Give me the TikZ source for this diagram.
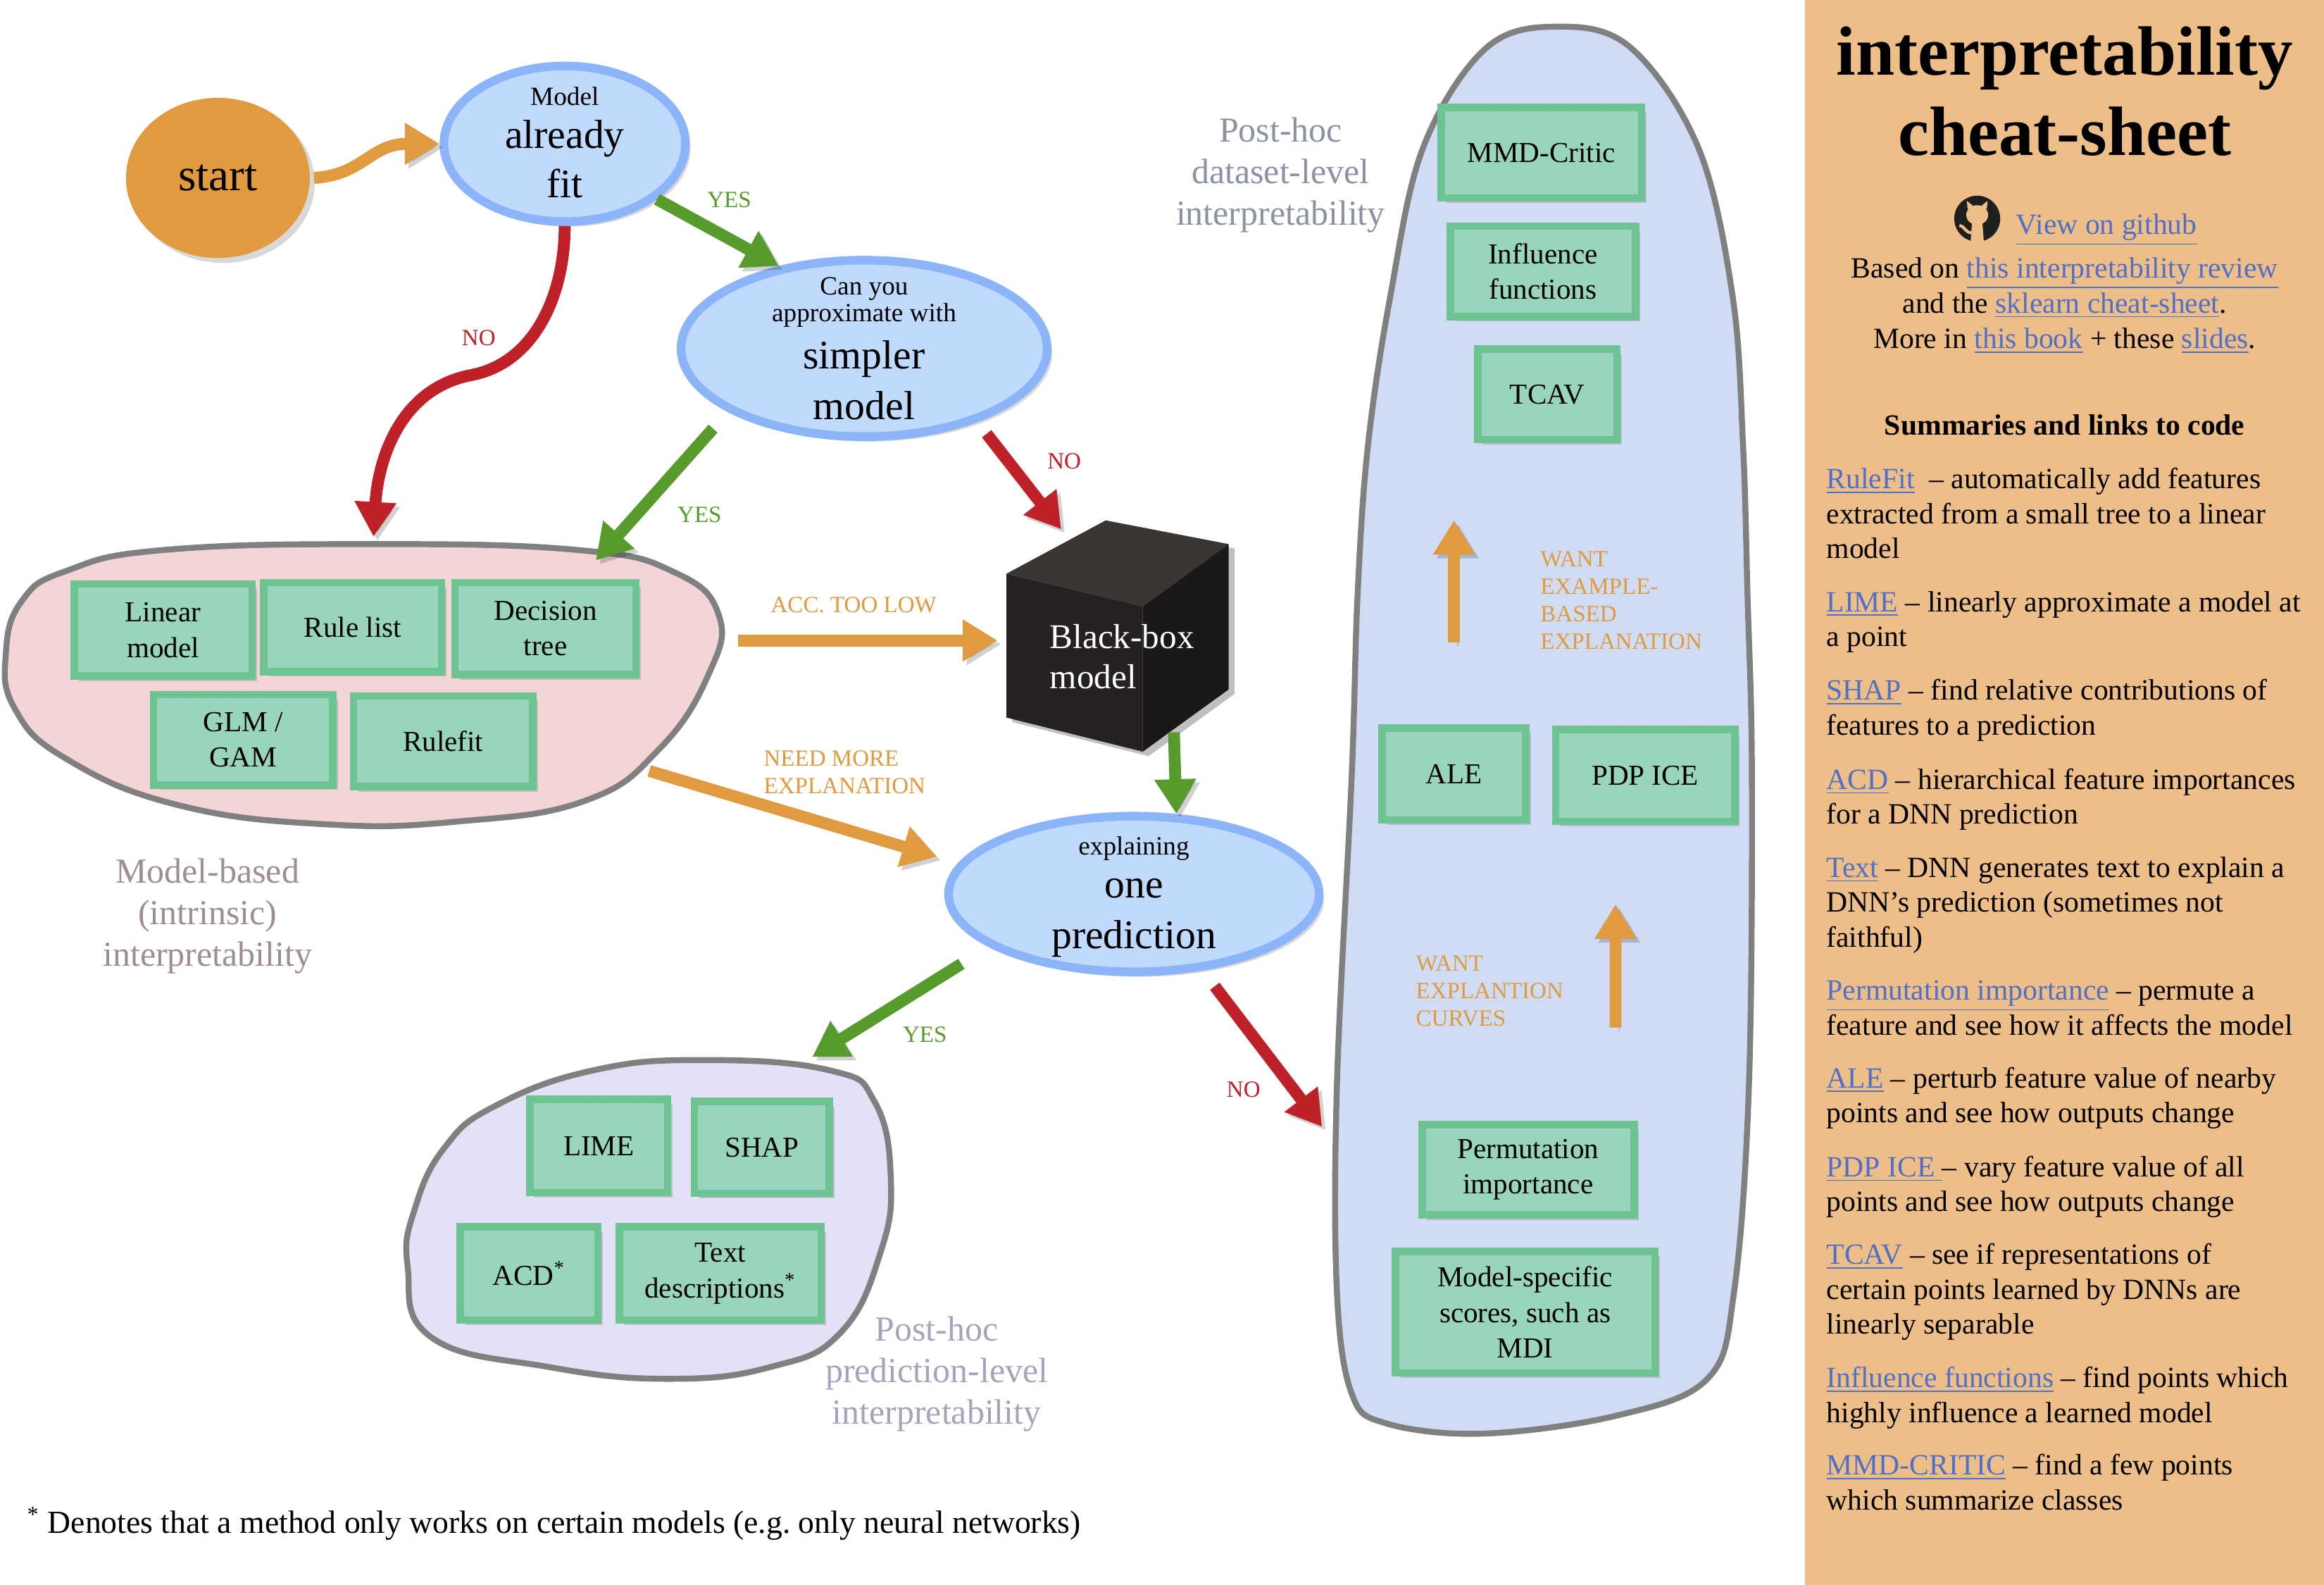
\documentclass[tikz,border=0pt]{standalone}
\usepackage{fontspec}
\setmainfont{Liberation Serif}
\usetikzlibrary{arrows.meta, shapes.geometric, shadows}

\definecolor{panelc}{HTML}{EDBE87}
\definecolor{orangec}{HTML}{E09A40}
\definecolor{greenc}{HTML}{579B2C}
\definecolor{redc}{HTML}{BE2128}
\definecolor{qfill}{HTML}{BFDAFC}
\definecolor{qline}{HTML}{8BB5F8}
\definecolor{mfill}{HTML}{99D5BC}
\definecolor{mline}{HTML}{6EC393}
\definecolor{pinkf}{HTML}{F3D5D8}
\definecolor{lavf}{HTML}{E2E1F6}
\definecolor{bluef}{HTML}{D0DBF4}
\definecolor{blobline}{HTML}{808080}
\definecolor{mbgray}{HTML}{9E8D91}
\definecolor{plgray}{HTML}{A5A4BA}
\definecolor{dlgray}{HTML}{8D92A2}
\definecolor{lnkc}{HTML}{5070C8}
\definecolor{cubetop}{HTML}{3B3633}
\definecolor{cubefront}{HTML}{252122}
\definecolor{cuberight}{HTML}{1A1818}

\newcommand{\pxu}{0.021046cm}
\newcommand{\fstart}{\fontsize{18.5}{22}\selectfont}
\newcommand{\fbig}{\fontsize{16.4}{19.8}\selectfont}
\newcommand{\fsmall}{\fontsize{10.6}{12.5}\selectfont}
\newcommand{\fmeth}{\fontsize{11.7}{14.3}\selectfont}
\newcommand{\fbb}{\fontsize{14}{16.35}\selectfont}
\newcommand{\fgroup}{\fontsize{14.2}{16.8}\selectfont}
\newcommand{\flab}{\fontsize{9.4}{11.1}\selectfont}
\newcommand{\fitem}{\fontsize{11.85}{14.1}\selectfont}
\newcommand{\ftitle}{\fontsize{28.2}{32.5}\selectfont}
\newcommand{\fnote}{\fontsize{13}{15}\selectfont}
\newcommand{\lnk}[1]{\textcolor{lnkc}{\underline{#1}}}

\begin{document}
\begin{tikzpicture}[x=0.021046cm, y=-0.021046cm,
    qell/.style={ellipse, draw=qline, fill=qfill, line width=3.5pt, inner sep=0pt,
      drop shadow={shadow xshift=2pt, shadow yshift=-2pt, opacity=.3}},
    qtxt/.style={align=center, font=\fbig, inner sep=0pt},
    mbox/.style 2 args={draw=mline, fill=mfill, line width=3pt, align=center, font=\fmeth,
      inner sep=0pt, minimum width=#1*\pxu, minimum height=#2*\pxu,
      drop shadow={shadow xshift=2pt, shadow yshift=-2pt, opacity=.35}},
    blob/.style={draw=blobline, line width=2.4pt},
    arr/.style={line width=4.8pt, -{Triangle[width=16pt,length=14pt]},
      preaction={draw=black, opacity=.18, transform canvas={shift={(1.5pt,-1.5pt)}}}},
    oarr/.style={arr, draw=orangec},
    garr/.style={arr, draw=greenc},
    rarr/.style={arr, draw=redc},
    lab/.style={font=\flab, inner sep=0pt},
    grp/.style={font=\fgroup, align=center, inner sep=0pt},
    pline/.style={font=\fitem, inner sep=0pt},
    item/.style={font=\fitem, align=left, anchor=base west, inner sep=0pt}]

\useasboundingbox (0,0) rectangle (1568,1069);
\fill[white] (0,0) rectangle (1568,1069);
\fill[panelc] (1218,0) rectangle (1568,1069);

% groups
\draw[blob, fill=pinkf] plot[smooth cycle, tension=.75] coordinates {
  (45,385) (110,371) (250,367) (390,371) (455,386) (485,415) (478,455) (445,505)
  (395,540) (310,554) (220,556) (120,543) (45,512) (10,478) (4,440) (15,405)};
\draw[blob, fill=lavf] plot[smooth cycle, tension=.75] coordinates {
  (334,746) (400,722) (475,715) (560,722) (590,743) (601,794) (594,845) (567,899)
  (520,922) (451,930) (370,922) (291,902) (275,854) (280,815) (300,774)};
\draw[blob, fill=bluef] plot[smooth cycle, tension=.6] coordinates {
  (1050,18) (1100,32) (1146,100) (1169,200) (1176,300) (1179,400) (1182,523)
  (1180,732) (1170,871) (1152,930) (1090,955) (1000,967) (935,960) (912,940)
  (902,871) (902,732) (912,523) (916,400) (923,300) (938,200) (960,100) (1002,33)};

% questions
\node[qell, fill=orangec, draw=none, minimum width=124*\pxu, minimum height=108*\pxu,
  font=\fstart] (start) at (147,120) {start};
\node[qell, minimum width=163*\pxu, minimum height=105*\pxu] (fit) at (381,97) {};
\node[qtxt] (fit-t) at (381,96) {{\fsmall Model}\\[-2.4pt]already\\fit};
\node[qell, minimum width=247*\pxu, minimum height=119*\pxu] (simpler) at (583,235) {};
\node[qtxt] (simpler-t) at (583,235)
  {{\fsmall Can you}\\[-9pt]{\fsmall approximate with}\\[-0.6pt]simpler\\[0.6pt]model};
\node[qell, minimum width=250*\pxu, minimum height=105*\pxu] (pred) at (765,603) {};
\node[qtxt] (pred-t) at (765,605) {{\fsmall explaining}\\[-2.3pt]one\\[0.6pt]prediction};

% black box
\fill[black, opacity=.25] (683,390) -- (750,354) -- (833,370) -- (833,468)
  -- (775,510) -- (683,487) -- cycle;
\fill[cubetop] (679,387) -- (746,351) -- (829,367) -- (771,409) -- cycle;
\fill[cubefront] (679,387) -- (771,409) -- (771,507) -- (679,484) -- cycle;
\fill[cuberight] (771,409) -- (829,367) -- (829,465) -- (771,507) -- cycle;
\node[font=\fbb, text=white, align=left, anchor=west, inner sep=0pt] (bbox)
  at (708,443) {Black-box\\model};

\coordinate (bbtop) at (716,357);
\coordinate (bbleft) at (673,432);
\coordinate (bbbot) at (792,494);
\coordinate (nob) at (252,362);
\coordinate (ybase) at (402,378);
\coordinate (accfrom) at (498,432);
\coordinate (needfrom) at (438,520);
\coordinate (ylav) at (548,713);
\coordinate (nodata) at (892,760);

% methods
\node[mbox={120}{62}] (lin) at (110,425) {Linear\\model};
\node[mbox={120}{60}] (rlist) at (238,423) {Rule list};
\node[mbox={122}{62}] (dtree) at (368,424) {Decision\\tree};
\node[mbox={121}{61}] (glm) at (164,499) {GLM /\\GAM};
\node[mbox={121}{61}] (rfit) at (299,500) {Rulefit};
\node[mbox={93}{63}] (lime) at (404,773) {LIME};
\node[mbox={91}{62}] (shap) at (514,774) {SHAP};
\node[mbox={93}{63}] (acd) at (357,859) {ACD\textsuperscript{*}};
\node[mbox={136}{63}] (tdesc) at (486,859) {Text\\descriptions\textsuperscript{*}};
\node[mbox={135}{61}] (mmd) at (1040,103) {MMD-Critic};
\node[mbox={125}{61}] (infl) at (1041,183) {Influence\\functions};
\node[mbox={94}{61}] (tcav) at (1044,266) {TCAV};
\node[mbox={97}{62}] (ale) at (981,522) {ALE};
\node[mbox={121}{62}] (pdp) at (1110,523) {PDP ICE};
\node[mbox={143}{61}] (perm) at (1031,789) {Permutation\\importance};
\node[mbox={175}{82}] (mdi) at (1029,885) {Model-specific\\scores, such as\\MDI};

% arrows
\draw[oarr] (start.east) .. controls (245,118) and (250,97) .. (fit.west);
\draw[garr] (fit.-31) -- (simpler.136);
\draw[rarr] (fit.south) .. controls (381,200) and (360,245) .. (318,253)
  .. controls (270,262) and (255,310) .. (nob);
\draw[garr, shorten <=9pt] (simpler.205) -- (ybase);
\draw[rarr, shorten <=6pt] (simpler.-33) -- (bbtop);
\draw[oarr] (accfrom) -- (bbleft);
\draw[garr] (bbbot) -- (pred.62);
\draw[oarr, shorten >=9pt] (needfrom) -- (pred.170);
\draw[garr, shorten <=13pt] (pred.200) -- (ylav);
\draw[rarr, shorten <=8pt] (pred.-48) -- (nodata);
\draw[oarr, shorten <=33pt, shorten >=31pt] (ale.north) -- (ale.north |- tcav.south);
\draw[oarr, shorten <=37.7pt, shorten >=32pt] ([xshift=35.3pt]perm.north)
  -- ([xshift=-12pt]pdp.south);

% labels
\node[lab, text=greenc] (yes1) at (492,135) {YES};
\node[lab, text=redc] (no1) at (323,228) {NO};
\node[lab, text=greenc] (yes2) at (472,347) {YES};
\node[lab, text=redc] (no2) at (718,311) {NO};
\node[lab, text=orangec] (acc) at (576,408) {ACC. TOO LOW};
\node[lab, text=orangec, align=left, anchor=west] (need) at (515,521) {NEED MORE\\EXPLANATION};
\node[lab, text=greenc] (yes3) at (624,698) {YES};
\node[lab, text=redc] (no3) at (839,735) {NO};
\node[lab, text=orangec, align=left, anchor=west] (wantex) at (1039,405)
  {WANT\\EXAMPLE-\\BASED\\EXPLANATION};
\node[lab, text=orangec, align=left, anchor=west] (wantcu) at (955,668.5)
  {WANT\\EXPLANTION\\CURVES};

\node[grp, text=mbgray] (mblab) at (140,618) {Model-based\\(intrinsic)\\interpretability};
\node[grp, text=plgray] (pllab) at (632,927) {Post-hoc\\prediction-level\\interpretability};
\node[grp, text=dlgray] (dllab) at (864,118) {Post-hoc\\dataset-level\\interpretability};

\node[anchor=base west, font=\fnote, inner sep=0pt] (note) at (18,1034)
  {\textsuperscript{*} Denotes that a method only works on certain models (e.g.\ only neural networks)};

% cheat-sheet panel
\node[anchor=base, font=\ftitle\bfseries, inner sep=0pt] (title1) at (1393,50.7) {interpretability};
\node[anchor=base, font=\ftitle\bfseries, inner sep=0pt] (title2) at (1393,105) {cheat-sheet};

\fill[black!88] (1334,147.5) circle[radius=15.5];
\fill[panelc] (1334,145) ellipse[x radius=7.4, y radius=6.6];
\fill[panelc] (1327.5,141) -- (1327,135.5) -- (1332,139.5) -- cycle;
\fill[panelc] (1340.5,141) -- (1341,135.5) -- (1336,139.5) -- cycle;
\fill[panelc] (1330.5,150) -- (1337.5,150) -- (1338.5,163.5) -- (1329.5,163.5) -- cycle;
\draw[panelc, line width=1.2pt] (1330,157) .. controls (1326,157) and (1325,152) .. (1322,152);

\node[pline, anchor=base west] (gh) at (1360,158) {\lnk{View on github}};
\node[pline, anchor=base] (based) at (1393,187.3) {Based on \lnk{this interpretability review}};
\node[pline, anchor=base] (andthe) at (1393,211) {and the \lnk{sklearn cheat-sheet}.};
\node[pline, anchor=base] (morein) at (1393,235) {More in \lnk{this book} + these \lnk{slides}.};
\node[pline, anchor=base, font=\fitem\bfseries] (summ) at (1393,293.3) {Summaries and links to code};

% items: placed by the baseline of their last line
\node[item] (i-rulefit) at (1232,376.7) {\lnk{RuleFit}\ \ – automatically add features\\extracted from a small tree to a linear\\model};
\node[item] (i-lime) at (1232,436) {\lnk{LIME} – linearly approximate a model at\\a point};
\node[item] (i-shap) at (1232,495.7) {\lnk{SHAP} – find relative contributions of\\features to a prediction};
\node[item] (i-acd) at (1232,555.8) {\lnk{ACD} – hierarchical feature importances\\for a DNN prediction};
\node[item] (i-text) at (1232,638.7) {\lnk{Text} – DNN generates text to explain a\\DNN’s prediction (sometimes not\\faithful)};
\node[item] (i-perm) at (1232,698) {\lnk{Permutation importance} – permute a\\feature and see how it affects the model};
\node[item] (i-ale) at (1232,757.2) {\lnk{ALE} – perturb feature value of nearby\\points and see how outputs change};
\node[item] (i-pdp) at (1232,817.2) {\lnk{PDP ICE\ }– vary feature value of all\\points and see how outputs change};
\node[item] (i-tcav) at (1232,899.8) {\lnk{TCAV} – see if representations of\\certain points learned by DNNs are\\linearly separable};
\node[item] (i-infl) at (1232,959.4) {\lnk{Influence functions} – find points which\\highly influence a learned model};
\node[item] (i-mmd) at (1232,1018.3) {\lnk{MMD-CRITIC} – find a few points\\which summarize classes};
\end{tikzpicture}
\end{document}
